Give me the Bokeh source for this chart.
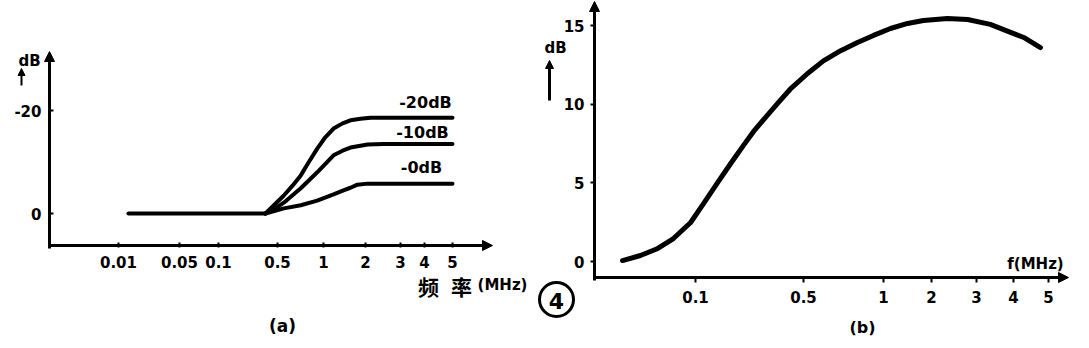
import numpy as np
from bokeh.plotting import figure
from bokeh.models import Range1d, FixedTicker, Label, Arrow, NormalHead, LinearAxis
from bokeh.embed import file_html
from bokeh.resources import INLINE

# ---------------- panel (a) data ----------------
a_tick_freqs = [0.01, 0.05, 0.1, 0.5, 1, 2, 3, 4, 5]
a_tick_labels = ["0.01", "0.05", "0.1", "0.5", "1", "2", "3", "4", "5"]
a_yticks = [0, -20]
a_ytick_labels = ["0", "-20"]
a_flat_f = [0.013, 0.36]
a_flat_db = [0, 0]
a_m20_f = [0.36, 0.473, 0.55, 0.627, 0.71, 0.798, 0.91, 1.03, 1.18, 1.37, 1.56, 1.84, 2.12, 5.0]
a_m20_db = [0, -1.9, -3.5, -5.4, -7.4, -9.9, -12.6, -14.8, -16.5, -17.5, -18.1, -18.4, -18.6, -18.6]
a_m10_f = [0.36, 0.473, 0.55, 0.71, 0.91, 1.18, 1.37, 1.56, 2.05, 2.47, 5.0]
a_m10_db = [0, -1.0, -2.1, -4.9, -8.0, -11.3, -12.2, -12.8, -13.4, -13.5, -13.5]
a_m0_f = [0.36, 0.55, 0.71, 0.91, 1.18, 1.39, 1.56, 1.75, 2.05, 2.3, 5.0]
a_m0_db = [0, -1.0, -1.6, -2.5, -3.7, -4.5, -5.0, -5.6, -5.8, -5.8, -5.8]
a_curve_labels = ["-20dB", "-10dB", "-0dB"]

# ---------------- panel (b) data ----------------
b_tick_freqs = [0.1, 0.5, 1, 2, 3, 4, 5]
b_tick_labels = ["0.1", "0.5", "1", "2", "3", "4", "5"]
b_yticks = [0, 5, 10, 15]
b_f = [0.0337, 0.044, 0.057, 0.072, 0.093, 0.113, 0.139, 0.169, 0.205, 0.237,
       0.275, 0.340, 0.41, 0.518, 0.594, 0.69, 0.798, 0.917, 1.106, 1.415,
       1.78, 2.31, 2.77, 3.34, 3.91, 4.27, 4.75]
b_db = [0.06, 0.38, 0.83, 1.46, 2.48, 3.69, 5.02, 6.23, 7.4, 8.25,
        9.0, 10.05, 10.95, 11.95, 12.75, 13.4, 13.92, 14.37, 14.81, 15.13,
        15.32, 15.45, 15.38, 15.07, 14.56, 14.24, 13.6]

# ---------------- layout (page pixels; hand-drawn non-uniform frequency axes) ----------------
W, H = 1089, 348
a_tick_pos = [0, 61, 100, 159, 205, 247, 282, 306, 334]
b_tick_pos = [0, 108, 188, 236, 281, 318, 353]
A_X0, A_Y0, A_K = 118, 213, 5.15      # px of first tick, px of 0 dB, px per dB
B_X0, B_Y0, B_K = 695, 261, 15.733
A_BOX = (49, 490, 53, 245)            # axis extents: left, right, top, bottom
B_BOX = (594, 1066, 4, 277)
FONT = "DejaVu Sans"


def xa(px): return px - A_X0
def ya(py): return (py - A_Y0) / A_K          # reversed: -20 dB at top
def xb(px): return px - B_X0
def yb(py): return (B_Y0 - py) / B_K


def warp(f, tf, tp):
    lf = np.log10(np.asarray(f, dtype=float))
    lt = np.log10(np.asarray(tf, dtype=float))
    tp = np.asarray(tp, dtype=float)
    out = np.interp(lf, lt, tp)
    slope = (tp[1] - tp[0]) / (lt[1] - lt[0])
    left = lf < lt[0]
    out[left] = tp[0] + (lf[left] - lt[0]) * slope
    return out


p = figure(width=W, height=H, x_range=Range1d(xa(0), xa(W)), y_range=Range1d(ya(H), ya(0)),
           x_axis_location=None, y_axis_location=None, min_border=0,
           output_backend="svg", toolbar_location=None, tools="")
p.extra_x_ranges = {"b": Range1d(xb(0), xb(W)), "page": Range1d(0, W)}
p.extra_y_ranges = {"b": Range1d(yb(H), yb(0)), "page": Range1d(H, 0)}
p.outline_line_color = None
p.xgrid.visible = False
p.ygrid.visible = False
p.background_fill_color = "white"
p.border_fill_color = "white"


def style_axis(ax, tin, tout, standoff):
    ax.axis_line_width = 3
    ax.axis_line_color = "black"
    ax.major_tick_line_width = 2
    ax.major_tick_line_color = "black"
    ax.major_tick_in = tin
    ax.major_tick_out = tout
    ax.minor_tick_line_color = None
    ax.major_label_standoff = standoff
    ax.major_label_text_font = FONT
    ax.major_label_text_font_style = "bold"
    ax.major_label_text_font_size = "15px"
    ax.major_label_text_color = "black"


# ---- panel (a) axes ----
L, R, T, B = A_BOX
ax = LinearAxis(ticker=FixedTicker(ticks=a_tick_pos),
                major_label_overrides={t: s for t, s in zip(a_tick_pos, a_tick_labels)},
                fixed_location=ya(B), bounds=(xa(L), xa(R)))
style_axis(ax, 3, 2, 8)
p.add_layout(ax, "below")
ay = LinearAxis(ticker=FixedTicker(ticks=a_yticks),
                major_label_overrides={t: s for t, s in zip(a_yticks, a_ytick_labels)},
                fixed_location=xa(L), bounds=(ya(T), ya(B + 3)))
style_axis(ay, 4, 0, 8)
p.add_layout(ay, "left")

# ---- panel (b) axes ----
L, R, T, B = B_BOX
bx = LinearAxis(x_range_name="b", y_range_name="b", ticker=FixedTicker(ticks=b_tick_pos),
                major_label_overrides={t: s for t, s in zip(b_tick_pos, b_tick_labels)},
                fixed_location=yb(B), bounds=(xb(L), xb(R)))
style_axis(bx, 0, 5, 8)
p.add_layout(bx, "below")
by = LinearAxis(x_range_name="b", y_range_name="b", ticker=FixedTicker(ticks=b_yticks),
                fixed_location=xb(L), bounds=(yb(B + 3), yb(T)))
style_axis(by, 0, 4, 6)
p.add_layout(by, "left")

# ---- curves ----
for fx, dy in ((a_flat_f, a_flat_db), (a_m20_f, a_m20_db), (a_m10_f, a_m10_db), (a_m0_f, a_m0_db)):
    p.line(warp(fx, a_tick_freqs, a_tick_pos), dy, line_color="black", line_width=4,
           line_cap="round", line_join="round")

p.line(warp(b_f, b_tick_freqs, b_tick_pos), b_db, x_range_name="b", y_range_name="b",
       line_color="black", line_width=5, line_cap="round", line_join="round")


# ---- texts and arrows (page pixel units) ----
def label(px, py, text, size, font=FONT, style="bold"):
    p.add_layout(Label(x=px, y=py, x_range_name="page", y_range_name="page", text=text,
                       text_align="center", text_baseline="middle", text_font=font,
                       text_font_size=f"{size}px", text_font_style=style, text_color="black"))


def arrow(p0, p1, head, lw=3):
    p.add_layout(Arrow(end=NormalHead(size=head, fill_color="black", line_color="black", line_width=1),
                       x_start=p0[0], y_start=p0[1], x_end=p1[0], y_end=p1[1],
                       x_range_name="page", y_range_name="page",
                       line_color="black", line_width=lw))


for (px, py), t in zip([(425, 102), (422, 132), (421, 167)], a_curve_labels):
    label(px, py, t, 16)
label(29, 60, "dB", 15)
arrow((21, 85), (21, 68), 7, lw=2)
label(428, 285, "频", 21, font="Noto Sans CJK SC")
label(461, 285, "率", 21, font="Noto Sans CJK SC")
label(502, 284, "(MHz)", 15)
label(282, 325, "(a)", 17)
arrow((478, 245), (492, 245), 10)
arrow((49, 66), (49, 51), 10)

label(555, 47, "dB", 15)
arrow((549, 100), (549, 60), 8)
label(1035, 263, "f(MHz)", 15)
label(862, 327, "(b)", 16)
p.scatter(x=[556], y=[299], x_range_name="page", y_range_name="page", marker="circle",
          size=34, fill_color=None, line_color="black", line_width=3)
label(556, 300, "4", 22)
arrow((1052, 277), (1068, 277), 10)
arrow((594, 16), (594, 1), 10)

open("out.html", "w").write(file_html(p, INLINE))
